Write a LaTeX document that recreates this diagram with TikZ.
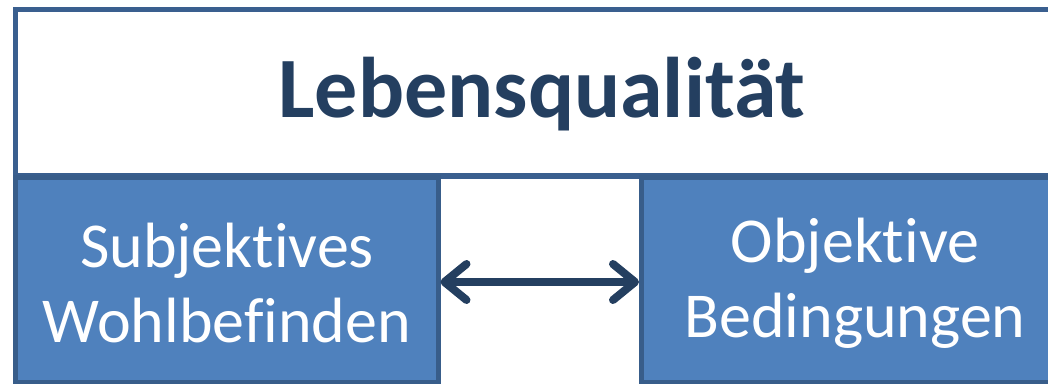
\documentclass[tikz,border=0pt]{standalone}
\usepackage{fontspec}
\setmainfont{Carlito}[Ligatures={NoCommon}]
\usetikzlibrary{arrows.meta}
\definecolor{frameblue}{HTML}{3A5F8F}
\definecolor{boxfill}{HTML}{4F81BD}
\definecolor{boxedge}{HTML}{385D8A}
\definecolor{navy}{HTML}{243F60}
\tikzset{
  frame/.style={draw=frameblue, line width=5.5pt, fill=white},
  sidebox/.style={draw=boxedge, line width=5pt, fill=boxfill},
  boxtext/.style={text=white, align=center, font=\fontsize{64}{75}\selectfont},
  link/.style={draw=navy, line width=8pt, line cap=round,
    {Straight Barb[round, length=22pt, width=36pt]}-{Straight Barb[round, length=22pt, width=36pt]}}
}
\begin{document}
\begin{tikzpicture}[x=1pt, y=-1pt]
  \useasboundingbox (0,0) rectangle (1048,383);
  % outer title panel
  \draw[frame] (15.5,9.5) rectangle (1070,176);
  \node[text=navy, font=\fontsize{86}{100}\selectfont\bfseries] (title) at (542,94) {Lebensqualität};
  % the two concept boxes
  \draw[sidebox] (15.5,177) rectangle (438,382);
  \draw[sidebox] (641.5,177) rectangle (1070,382);
  \coordinate (lmid) at (440.5,282);
  \coordinate (rmid) at (639,282);
  \node[boxtext] (left) at (227,283) {Subjektives\\Wohlbefinden};
  \node[boxtext] (right) at (855,283) {Objektive\\Bedingungen};
  % mutual relation
  \draw[link] (lmid) -- (rmid);
\end{tikzpicture}
\end{document}
